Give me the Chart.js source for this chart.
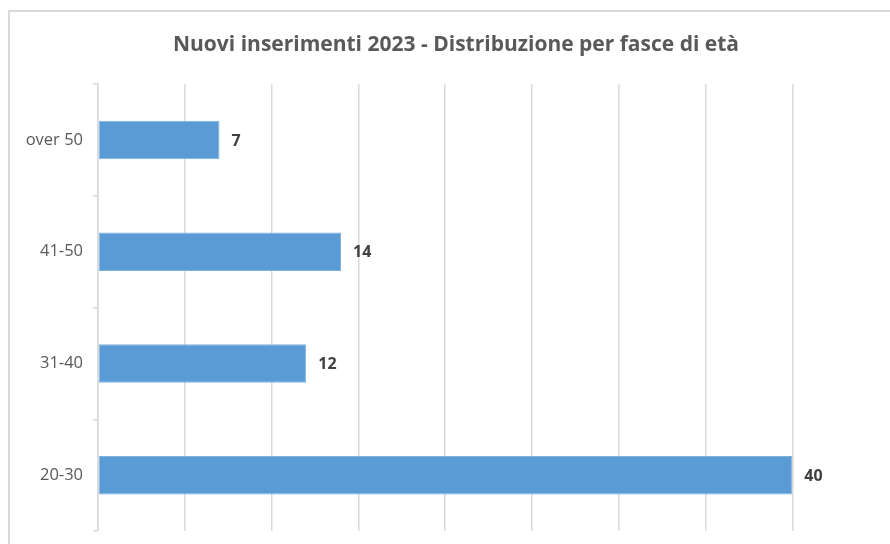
<!DOCTYPE html>
<html>
<head>
<meta charset="utf-8">
<script src="https://cdn.jsdelivr.net/npm/chart.js@4/dist/chart.umd.min.js"></script>
<style>
  html, body { margin: 0; padding: 0; overflow: hidden; background: #fff; width: 890px; height: 544px; }
  #frame {
    position: absolute; left: 8px; top: 10px;
    width: 900px; height: 560px;
    border-left: 2px solid #d9d9d9; border-top: 2px solid #d9d9d9;
  }
  #wrap { position: absolute; left: 9px; top: 11px; width: 894px; height: 533px; }
  canvas { display: block; }
</style>
</head>
<body>
<div id="frame"></div>
<div id="wrap"><canvas id="chart"></canvas></div>
<script>
// 数据
const titleText = 'Nuovi inserimenti 2023 - Distribuzione per fasce di età';
const categories = ['over 50', '41-50', '31-40', '20-30'];
const values = [7, 14, 12, 40];
const axisMin = 0;
const axisMax = 46.38; // 最后一条网格线(45)之外的部分在画面右侧之外
const axisStep = 5;

// 柱末端数值标签
const valueLabels = {
  id: 'valueLabels',
  afterDatasetsDraw(chart) {
    const ctx = chart.ctx;
    const meta = chart.getDatasetMeta(0);
    ctx.save();
    ctx.font = 'bold 16px "Open Sans", sans-serif';
    ctx.fillStyle = '#404040';
    ctx.textAlign = 'left';
    ctx.textBaseline = 'middle';
    meta.data.forEach((bar, i) => {
      ctx.fillText(String(values[i]), bar.x + 12, bar.y + 1);
    });
    ctx.restore();
  }
};

const canvas = document.getElementById('chart');
canvas.width = 894;
canvas.height = 533;

new Chart(canvas, {
  type: 'bar',
  data: {
    labels: categories,
    datasets: [{
      data: values,
      backgroundColor: '#5B9BD5',
      borderColor: '#7fb1df',
      borderWidth: 1,
      borderSkipped: false,
      categoryPercentage: 1,
      barPercentage: 0.345
    }]
  },
  options: {
    indexAxis: 'y',
    responsive: false,
    animation: false,
    layout: {
      padding: { left: 0, right: 0, top: 0, bottom: 13 }
    },
    plugins: {
      legend: { display: false },
      tooltip: { enabled: false },
      title: {
        display: true,
        text: titleText,
        color: '#595959',
        font: { family: '"Open Sans", sans-serif', size: 21, weight: 'bold' },
        padding: { top: 21, bottom: 27 }
      }
    },
    scales: {
      x: {
        min: axisMin,
        max: axisMax,
        afterFit(scale) { scale.height = 0; },
        ticks: { display: false, stepSize: axisStep },
        grid: { color: '#d9d9d9', lineWidth: 1.5, drawTicks: false },
        border: { display: false }
      },
      y: {
        afterFit(scale) {
          scale.width = 89;
          scale.paddingTop = 0;
          scale.paddingBottom = 0;
        },
        ticks: {
          color: '#595959',
          padding: 10,
          font: { family: '"Open Sans", sans-serif', size: 16.5 }
        },
        grid: {
          offset: true,
          drawOnChartArea: false,
          drawTicks: true,
          tickLength: 5,
          color: '#d9d9d9',
          lineWidth: 1.5
        },
        border: { display: true, color: '#d9d9d9', width: 1.5 }
      }
    }
  },
  plugins: [valueLabels]
});
</script>
</body>
</html>
